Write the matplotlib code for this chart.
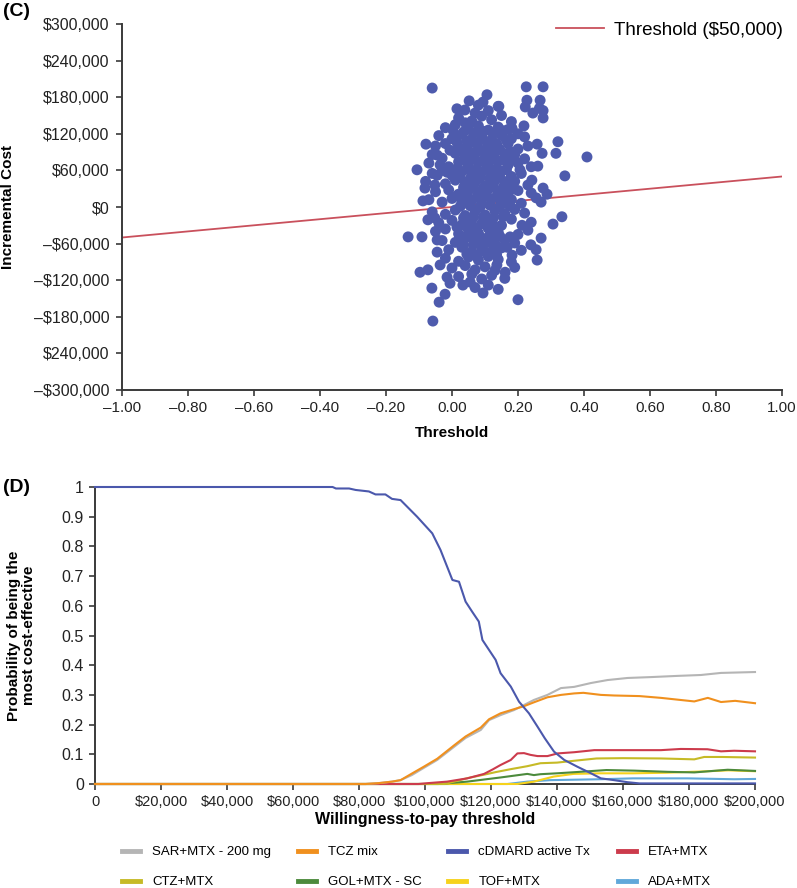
import numpy as np
import matplotlib
matplotlib.use("Agg")
import matplotlib.pyplot as plt
from matplotlib.lines import Line2D

plt.rcParams['font.family'] = ['Liberation Sans', 'DejaVu Sans']

# ---- panel (C): incremental cost-effectiveness scatter ----
# (incremental effect, incremental cost in $1000)
scatter_points = [
    # outliers / edge of the cloud
    (-0.06, 195), (0.225, 197), (0.276, 197), (0.227, 175), (0.267, 175),
    (0.222, 164), (0.265, 162), (0.245, 154), (0.276, 158), (0.276, 146),
    (0.142, 165), (0.218, 133), (0.182, 129), (0.258, 103), (0.321, 107),
    (0.273, 88), (0.315, 88), (0.409, 82), (0.26, 67), (0.342, 51),
    (0.206, 61), (0.242, 44), (0.276, 31), (0.288, 21),
    (-0.079, 103), (-0.106, 61), (0.015, 161), (0.052, 174), (0.094, 172),
    (0.106, 184), (0.039, 159), (0.07, 154), (0.04, 138), (0.003, 126),
    (0.009, 113), (-0.045, 85), (-0.006, 93), (0.033, 93), (-0.036, 69),
    (-0.045, 52), (-0.015, 57), (-0.082, 31), (-0.088, 10), (-0.052, 36),
    (-0.133, -49), (-0.091, -49), (-0.097, -107), (-0.073, -103), (-0.061, -133),
    (-0.021, -143), (-0.039, -156), (-0.058, -187), (-0.052, -18), (-0.073, -21),
    (-0.045, -54), (-0.045, -74), (-0.036, -95), (-0.015, -115), (-0.006, -125),
    (0.033, -128), (0.055, -123), (0.094, -141),
    (0.333, -16), (0.306, -28), (0.27, -51), (0.239, -62), (0.255, -70),
    (0.258, -87), (0.161, -107), (0.2, -152), (0.212, -30), (0.176, -49),
    (0.124, -57), (0.182, -79), (0.136, -95), (0.167, -66), (0.27, 8), (0.255, 15),
    # dense core
    (0.02, 146), (0.06, 141), (0.09, 149), (0.12, 143), (0.15, 150), (0.18, 140),
    (0.11, 158), (0.14, 165), (0.08, 167),
    (-0.02, 130), (0.01, 135), (0.05, 128), (0.08, 133), (0.11, 126), (0.14, 131),
    (0.17, 127), (0.20, 120),
    (-0.04, 117), (0.00, 112), (0.03, 119), (0.06, 111), (0.09, 116), (0.12, 110),
    (0.15, 118), (0.18, 112), (0.22, 115),
    (-0.05, 100), (-0.02, 104), (0.02, 98), (0.05, 103), (0.08, 96), (0.11, 101),
    (0.14, 97), (0.17, 104), (0.20, 95), (0.23, 100),
    (-0.06, 86), (-0.03, 80), (0.01, 88), (0.04, 82), (0.07, 87), (0.10, 81),
    (0.13, 89), (0.16, 83), (0.19, 86), (0.22, 79),
    (-0.07, 72), (-0.01, 66), (0.02, 74), (0.05, 68), (0.08, 73), (0.11, 67),
    (0.14, 75), (0.17, 69), (0.20, 72), (0.24, 66),
    (-0.06, 55), (-0.03, 60), (0.00, 52), (0.03, 58), (0.06, 51), (0.09, 57),
    (0.12, 53), (0.15, 59), (0.18, 50), (0.21, 55),
    (-0.08, 42), (-0.02, 38), (0.01, 44), (0.04, 36), (0.07, 41), (0.10, 35),
    (0.13, 43), (0.16, 37), (0.19, 42), (0.23, 36),
    (-0.05, 25), (-0.01, 28), (0.02, 21), (0.05, 27), (0.08, 22), (0.11, 29),
    (0.14, 24), (0.17, 20), (0.20, 27), (0.24, 23),
    (-0.07, 12), (-0.03, 8), (0.00, 14), (0.03, 6), (0.06, 11), (0.09, 5),
    (0.12, 13), (0.15, 7), (0.18, 12), (0.21, 6),
    (-0.06, -8), (-0.02, -12), (0.01, -5), (0.04, -14), (0.07, -7), (0.10, -13),
    (0.13, -6), (0.16, -11), (0.19, -4), (0.22, -10),
    (-0.04, -26), (0.00, -22), (0.03, -29), (0.06, -21), (0.09, -27), (0.12, -23),
    (0.15, -30), (0.18, -20), (0.24, -25),
    (-0.05, -40), (-0.02, -36), (0.02, -44), (0.05, -38), (0.08, -43), (0.11, -35),
    (0.14, -41), (0.20, -45), (0.23, -38),
    (-0.03, -55), (0.01, -58), (0.04, -51), (0.07, -57), (0.10, -52), (0.13, -60),
    (0.16, -54), (0.19, -59),
    (-0.01, -70), (0.03, -66), (0.06, -73), (0.09, -68), (0.12, -74), (0.15, -67),
    (0.21, -71),
    (-0.02, -84), (0.02, -89), (0.05, -82), (0.08, -87), (0.11, -81), (0.14, -86),
    (0.18, -90),
    (0.00, -100), (0.04, -96), (0.07, -103), (0.10, -98), (0.13, -104), (0.19, -99),
    (0.02, -114), (0.06, -110), (0.09, -118), (0.12, -112), (0.16, -117),
    (0.07, -132), (0.11, -128), (0.14, -135),
    # second layer in the densest part
    (0.035, 123), (0.065, 121), (0.095, 124), (0.125, 120), (0.155, 125),
    (0.015, 106), (0.045, 108), (0.075, 105), (0.105, 107), (0.135, 104), (0.165, 109),
    (0.025, 92), (0.055, 90), (0.085, 93), (0.115, 91), (0.145, 94), (0.175, 91),
    (0.035, 77), (0.065, 79), (0.095, 76), (0.125, 78), (0.155, 77), (0.185, 78),
    (0.015, 63), (0.045, 62), (0.075, 61), (0.105, 63), (0.135, 62), (0.165, 61),
    (0.025, 48), (0.055, 46), (0.085, 48), (0.115, 47), (0.145, 49), (0.175, 45),
    (0.035, 32), (0.065, 33), (0.095, 31), (0.125, 33), (0.155, 32), (0.185, 30),
    (0.015, 18), (0.045, 17), (0.075, 16), (0.105, 18), (0.135, 17), (0.165, 16),
    (0.025, 1), (0.055, 2), (0.085, 0), (0.115, 3), (0.145, 1), (0.175, 2),
    (0.035, -18), (0.065, -16), (0.095, -17), (0.125, -18), (0.155, -16),
    (0.015, -33), (0.045, -32), (0.075, -34), (0.105, -31), (0.135, -33),
    (0.025, -48), (0.055, -47), (0.085, -49), (0.115, -46), (0.145, -48),
    (0.035, -63), (0.065, -61), (0.095, -62), (0.125, -64),
    (0.045, -77), (0.075, -79), (0.105, -76), (0.135, -78),
]

threshold_wtp = 50000  # $ per unit of effect
threshold_x = [-1.0, 1.0]

c_yticks = [300000, 240000, 180000, 120000, 60000, 0, -60000, -120000, -180000, -240000, -300000]
c_yticklabels = ['$300,000', '$240,000', '$180,000', '$120,000', '$60,000', '$0',
                 '\u2013$60,000', '\u2013$120,000', '\u2013$180,000', '$240,000', '\u2013$300,000']
c_xticks = [-1.0, -0.8, -0.6, -0.4, -0.2, 0.0, 0.2, 0.4, 0.6, 0.8, 1.0]
c_xticklabels = ['\u20131.00', '\u20130.80', '\u20130.60', '\u20130.40', '\u20130.20',
                 '0.00', '0.20', '0.40', '0.60', '0.80', '1.00']

# ---- panel (D): cost-effectiveness acceptability curves ----
# willingness-to-pay in $1000, probability of being most cost-effective
wtp_cdmard = [0, 72, 73, 77, 79, 83, 85, 88, 90, 92.6, 97.6, 102.2, 104.7, 108.3, 110.3,
              112.3, 114.3, 116.3, 117.4, 121.4, 122.9, 126, 128.5, 131.5, 134.1, 136.3,
              139.1, 142.2, 146.2, 150.3, 153.3, 157.3, 161.4, 165, 200]
prob_cdmard = [1, 1, 0.995, 0.995, 0.99, 0.985, 0.975, 0.975, 0.96, 0.956, 0.90, 0.844,
               0.788, 0.687, 0.681, 0.614, 0.58, 0.547, 0.485, 0.418, 0.373, 0.328, 0.277,
               0.238, 0.193, 0.154, 0.109, 0.081, 0.058, 0.036, 0.019, 0.013, 0.006, 0.002, 0.002]

wtp_sar = [0, 82, 86, 90, 92.6, 96, 99.6, 103.7, 108.8, 112.3, 116.9, 119.4, 122.9, 127,
           130, 133, 137.1, 141.2, 145.2, 150.3, 155.3, 161.4, 168.5, 176.5, 183.6, 189.7, 200]
prob_sar = [0, 0, 0.003, 0.008, 0.013, 0.03, 0.054, 0.081, 0.125, 0.155, 0.182, 0.215,
            0.232, 0.249, 0.266, 0.283, 0.30, 0.323, 0.327, 0.34, 0.35, 0.357, 0.36, 0.364,
            0.367, 0.374, 0.377]

wtp_tcz = [0, 82, 86, 90, 92.6, 96, 99.6, 103.7, 108.8, 112.3, 116.9, 119.4, 122.9, 127,
           130, 133, 137.1, 141.2, 145.2, 148, 153.3, 157.3, 165, 171.5, 181.6, 185.7,
           189.7, 194, 200]
prob_tcz = [0, 0, 0.003, 0.008, 0.013, 0.035, 0.058, 0.085, 0.13, 0.16, 0.19, 0.218, 0.238,
            0.252, 0.262, 0.275, 0.292, 0.30, 0.305, 0.307, 0.30, 0.298, 0.296, 0.29,
            0.278, 0.29, 0.276, 0.28, 0.272]

wtp_eta = [0, 98, 101, 106.7, 112.8, 117.9, 120.5, 122.9, 126, 128, 130, 132, 134.1, 137.1,
           140.2, 145.2, 151.3, 163.4, 171.5, 177.5, 185.6, 189.7, 193.7, 200]
prob_eta = [0, 0, 0.003, 0.008, 0.019, 0.034, 0.049, 0.064, 0.081, 0.103, 0.104, 0.098,
            0.094, 0.094, 0.103, 0.107, 0.114, 0.114, 0.114, 0.118, 0.117, 0.11, 0.112, 0.11]

wtp_ctz = [0, 106, 113, 119, 121.4, 126, 131, 135, 140, 145, 152, 160, 171.5, 181.6, 184.6, 190, 200]
prob_ctz = [0, 0, 0.02, 0.034, 0.04, 0.05, 0.06, 0.07, 0.072, 0.078, 0.086, 0.087, 0.086,
            0.083, 0.091, 0.091, 0.089]

wtp_gol = [0, 104, 112.8, 122.9, 131, 133, 135, 140, 147, 155, 163.4, 173.5, 181.6, 191.7, 200]
prob_gol = [0, 0, 0.008, 0.022, 0.034, 0.03, 0.033, 0.036, 0.041, 0.047, 0.045, 0.041,
            0.039, 0.048, 0.044]

wtp_tof = [0, 128, 133, 139, 145, 153, 163, 173, 183.6, 192, 200]
prob_tof = [0, 0, 0.008, 0.025, 0.034, 0.036, 0.036, 0.038, 0.042, 0.046, 0.043]

wtp_ada = [0, 125, 131, 138, 153, 163, 179.5, 193.7, 200]
prob_ada = [0, 0, 0.008, 0.013, 0.016, 0.019, 0.019, 0.016, 0.017]

d_xticks = [0, 20000, 40000, 60000, 80000, 100000, 120000, 140000, 160000, 180000, 200000]
d_xticklabels = ['0', '$20,000', '$40,000', '$60,000', '$80,000', '$100,000', '$120,000',
                 '$140,000', '$160,000', '$180,000', '$200,000']
d_yticks = [0, 0.1, 0.2, 0.3, 0.4, 0.5, 0.6, 0.7, 0.8, 0.9, 1.0]
d_yticklabels = ['0', '0.1', '0.2', '0.3', '0.4', '0.5', '0.6', '0.7', '0.8', '0.9', '1']

series = [
    # name, wtp, prob, colour
    ('SAR+MTX - 200 mg', wtp_sar, prob_sar, '#B5B5B5'),
    ('TCZ mix', wtp_tcz, prob_tcz, '#F0901E'),
    ('cDMARD active Tx', wtp_cdmard, prob_cdmard, '#4B58AC'),
    ('ETA+MTX', wtp_eta, prob_eta, '#CC3B4C'),
    ('CTZ+MTX', wtp_ctz, prob_ctz, '#C6BA26'),
    ('GOL+MTX - SC', wtp_gol, prob_gol, '#4C8A3C'),
    ('TOF+MTX', wtp_tof, prob_tof, '#F6D21C'),
    ('ADA+MTX', wtp_ada, prob_ada, '#60A8DA'),
]
draw_order = ['ADA+MTX', 'TOF+MTX', 'GOL+MTX - SC', 'CTZ+MTX', 'ETA+MTX',
              'SAR+MTX - 200 mg', 'TCZ mix', 'cDMARD active Tx']


def style_axes(ax):
    for side in ('top', 'right'):
        ax.spines[side].set_visible(False)
    for side in ('left', 'bottom'):
        ax.spines[side].set_color('#3a3a3a')
        ax.spines[side].set_linewidth(1.4)
    ax.tick_params(direction='out', length=4, width=1.2, color='#3a3a3a',
                   labelcolor='#222222', pad=4)


fig = plt.figure(figsize=(7.97, 8.88), dpi=100)

# panel C
ax_c = fig.add_axes([122 / 797, 1 - 390 / 888, 660 / 797, 366 / 888])
pts = np.array(scatter_points)
thr_y = [x * threshold_wtp for x in threshold_x]
ax_c.plot(threshold_x, thr_y, color='#C9505C', lw=1.3, zorder=2,
          label='Threshold ($50,000)')
ax_c.scatter(pts[:, 0], pts[:, 1] * 1000, s=62, color='#4E5BAD', edgecolors='none', zorder=3)
ax_c.set_xlim(-1.0, 1.0)
ax_c.set_ylim(-300000, 300000)
ax_c.set_xticks(c_xticks)
ax_c.set_xticklabels(c_xticklabels, fontsize=11)
ax_c.set_yticks(c_yticks)
ax_c.set_yticklabels(c_yticklabels, fontsize=11.5)
style_axes(ax_c)
ax_c.tick_params(axis='y', pad=5)
ax_c.set_xlabel('Threshold', fontsize=11, fontweight='bold', labelpad=8)
ax_c.set_ylabel('Incremental Cost', fontsize=11, fontweight='bold')
ax_c.yaxis.set_label_coords(-0.162, 0.5)
ax_c.legend(loc='upper left', bbox_to_anchor=(548 / 797, 1 - 14 / 888),
            bbox_transform=fig.transFigure, frameon=False, fontsize=13.5,
            handlelength=2.6, handletextpad=0.5, borderaxespad=0)
fig.text(3 / 797, 1 - 12 / 888, '(C)', fontsize=14, fontweight='bold', va='center')

# panel D
ax_d = fig.add_axes([95 / 797, 1 - 784 / 888, 660 / 797, 297 / 888])
lookup = {s[0]: s for s in series}
for name in draw_order:
    _, w, p, col = lookup[name]
    ax_d.plot(np.array(w) * 1000, p, color=col, lw=1.5, clip_on=False, zorder=3)
ax_d.set_xlim(0, 200000)
ax_d.set_ylim(0, 1.0)
ax_d.set_xticks(d_xticks)
ax_d.set_xticklabels(d_xticklabels, fontsize=10.5)
ax_d.set_yticks(d_yticks)
ax_d.set_yticklabels(d_yticklabels, fontsize=11.5)
style_axes(ax_d)
ax_d.set_xlabel('Willingness-to-pay threshold', fontsize=11.5, fontweight='bold', labelpad=2)
ax_d.set_ylabel('Probability of being the\nmost cost-effective', fontsize=11,
                fontweight='bold', linespacing=1.05)
ax_d.yaxis.set_label_coords(-0.09, 0.5)
fig.text(3 / 797, 1 - 487 / 888, '(D)', fontsize=14, fontweight='bold', va='center')

# legend: 4 columns x 2 rows, one small legend per column
col_x = [122, 298, 448, 618]
for i, x0 in enumerate(col_x):
    pair = [series[i], series[i + 4]]
    handles = [Line2D([], [], color=s[3], lw=3.5) for s in pair]
    fig.legend(handles, [s[0] for s in pair], loc='upper left',
               bbox_to_anchor=(x0 / 797, 1 - 846 / 888), frameon=False,
               fontsize=9.5, handlelength=1.4, handletextpad=0.9,
               labelspacing=1.35, borderaxespad=0, borderpad=0)

fig.savefig('out.png', dpi=100)
